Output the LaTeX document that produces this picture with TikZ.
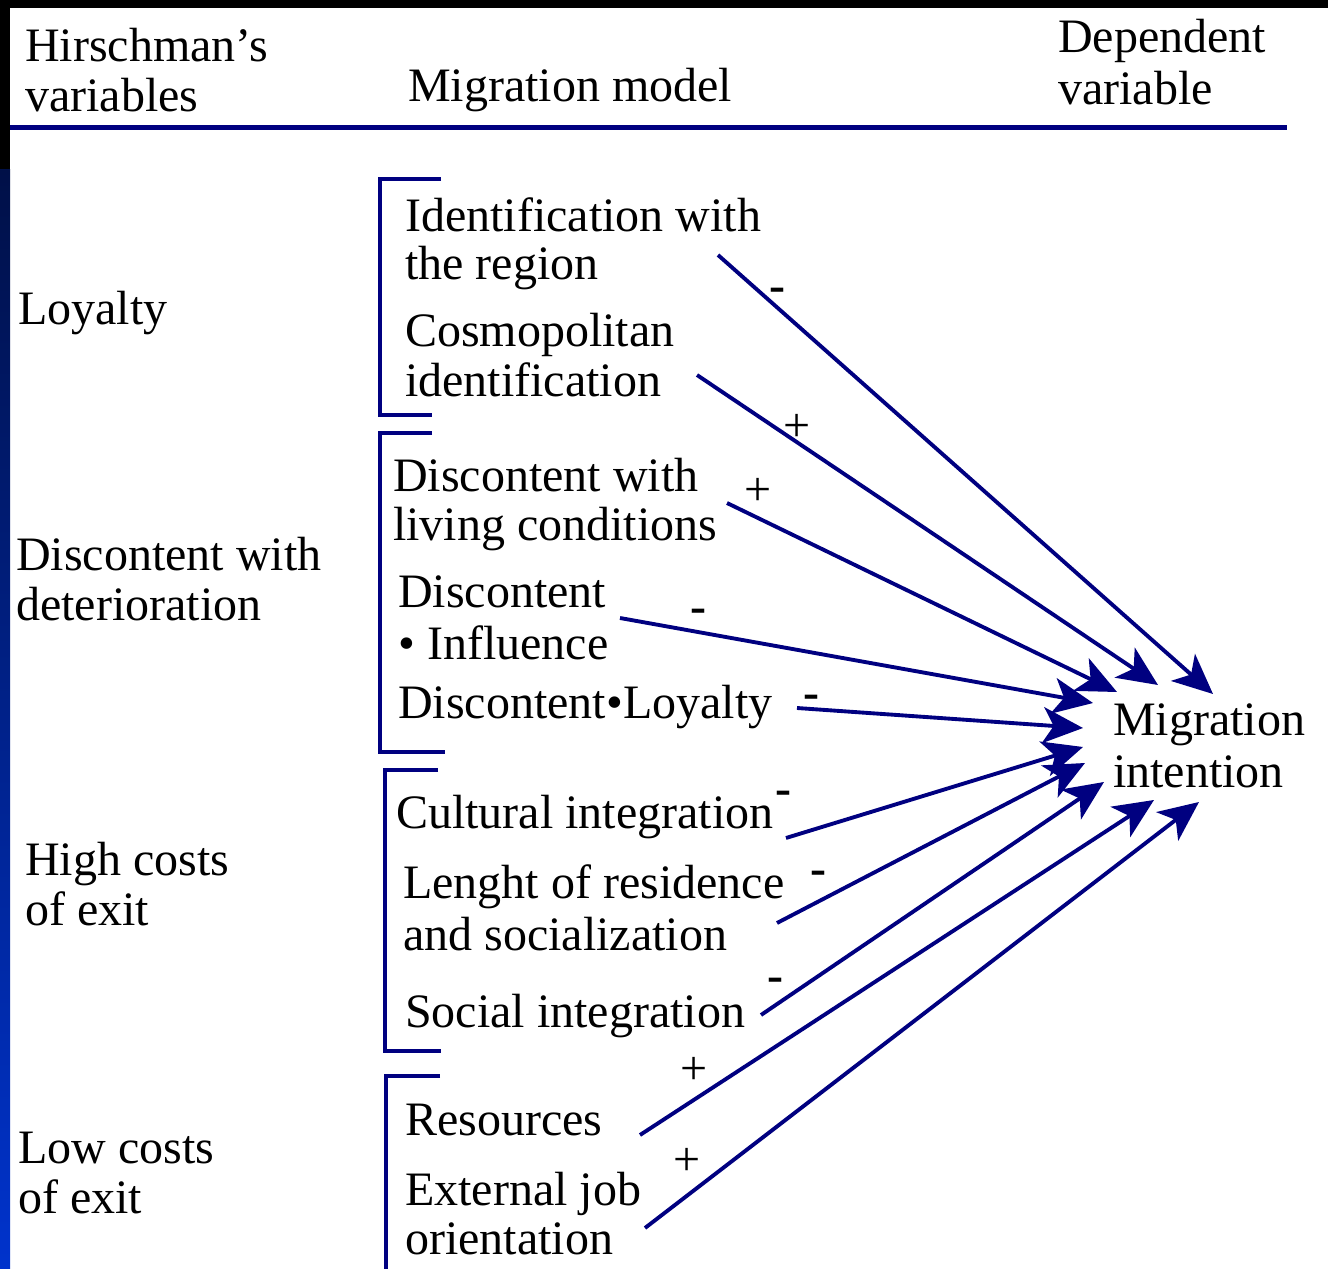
\documentclass[tikz,border=0pt]{standalone}
\usepackage{fontspec}
\setmainfont{Liberation Serif}
\usetikzlibrary{arrows.meta}
\definecolor{navyline}{RGB}{0,0,128}
\definecolor{stripblue}{RGB}{0,51,204}
\definecolor{stripdark}{RGB}{0,16,72}
\begin{document}
\begin{tikzpicture}[x=0.75pt,y=-0.75pt,
  lbl/.style={anchor=base west, inner sep=0pt, font=\fontsize{36}{37.5}\selectfont, text=black},
  sgn/.style={anchor=base, inner sep=0pt, font=\fontsize{36}{37.5}\selectfont, text=black},
  brk/.style={draw=navyline, line width=3pt},
  arr/.style={draw=navyline, line width=2.9pt, -{Stealth[length=30pt,width=27pt,inset=8pt]}},
]
\useasboundingbox (0,0) rectangle (1328,1269);
% background frame
\fill[white] (0,0) rectangle (1328,1269);
\fill[black] (0,0) rectangle (1328,8);
\fill[black] (0,0) rectangle (10,180);
\shade[top color=stripdark, bottom color=stripblue] (0,170) rectangle (10,1269);
% header rule
\draw[navyline, line width=3.75pt] (10,128) -- (1287,128);
% header texts
\node[lbl] (h1a) at (25,62) {Hirschman’s};
\node[lbl] (h1b) at (25,112) {variables};
\node[lbl] (h2) at (408,102) {Migration model};
\node[lbl] (h3a) at (1058,53) {Dependent};
\node[lbl] (h3b) at (1058,105) {variable};
% left column
\node[lbl] (loy) at (18,325) {Loyalty};
\node[lbl] (disa) at (16,570) {Discontent with};
\node[lbl] (disb) at (16,620) {deterioration};
\node[lbl] (higha) at (25,875) {High costs};
\node[lbl] (highb) at (25,925) {of exit};
\node[lbl] (lowa) at (18,1163) {Low costs};
\node[lbl] (lowb) at (18,1213) {of exit};
% brackets
\draw[brk] (441,179) -- (380,179) -- (380,415) -- (432,415);
\draw[brk] (432,433) -- (380,433) -- (380,752) -- (445,752);
\draw[brk] (438,770) -- (385,770) -- (385,1051) -- (441,1051);
\draw[brk] (440,1076) -- (386,1076) -- (386,1275);
% middle texts
\node[lbl] (m1a) at (405,232) {Identification with};
\node[lbl] (m1b) at (405,280) {the region};
\node[lbl] (m2a) at (405,347) {Cosmopolitan};
\node[lbl] (m2b) at (405,397) {identification};
\node[lbl] (m3a) at (393,491) {Discontent with};
\node[lbl] (m3b) at (393,540) {living conditions};
\node[lbl] (m4a) at (398,607) {Discontent};
\node[lbl] (m4b) at (398,659) {• Influence};
\node[lbl] (m5) at (398,718) {Discontent•Loyalty};
\node[lbl] (m6) at (396,828) {Cultural integration};
\node[lbl] (m7a) at (403,898) {Lenght of residence};
\node[lbl] (m7b) at (403,950) {and socialization};
\node[lbl] (m8) at (405,1027) {Social integration};
\node[lbl] (m9) at (405,1135) {Resources};
\node[lbl] (m10a) at (405,1205) {External job};
\node[lbl] (m10b) at (405,1254) {orientation};
% dependent variable
\node[lbl] (miga) at (1113,735) {Migration};
\node[lbl] (migb) at (1113,787) {intention};
% arrow start and tip coordinates
\coordinate (s1) at (718,255);  \coordinate (t1) at (1213,694);
\coordinate (s2) at (697,375);  \coordinate (t2) at (1158,685);
\coordinate (s3) at (727,503);  \coordinate (t3) at (1117,692);
\coordinate (s4) at (620,618);  \coordinate (t4) at (1093,703);
\coordinate (s5) at (797,708);  \coordinate (t5) at (1083,728);
\coordinate (s6) at (786,838);  \coordinate (t6) at (1083,747);
\coordinate (s7) at (777,923);  \coordinate (t7) at (1085,763);
\coordinate (s8) at (761,1015); \coordinate (t8) at (1104,782);
\coordinate (s9) at (640,1135); \coordinate (t9) at (1154,800);
\coordinate (s10) at (645,1228); \coordinate (t10) at (1199,802);
\foreach \i in {1,...,10} { \draw[arr] (s\i) -- (t\i); }
% signs
\node[sgn] (g1) at (777,302) {\bfseries -};
\node[sgn] (g2) at (797,441) {+};
\node[sgn] (g3) at (758,505) {+};
\node[sgn] (g4) at (698,622) {\bfseries -};
\node[sgn] (g5) at (811,708) {\bfseries -};
\node[sgn] (g6) at (783,804) {\bfseries -};
\node[sgn] (g7) at (818,884) {\bfseries -};
\node[sgn] (g8) at (775,991) {\bfseries -};
\node[sgn] (g9) at (694,1084) {+};
\node[sgn] (g10) at (687,1175) {+};
\end{tikzpicture}
\end{document}
